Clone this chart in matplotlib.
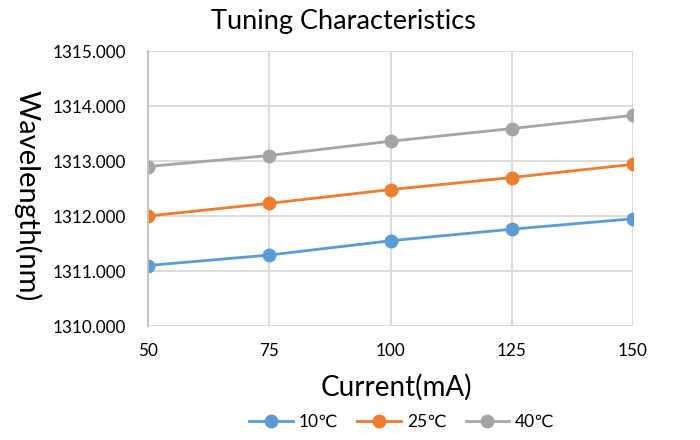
import matplotlib
matplotlib.use("Agg")
import matplotlib.pyplot as plt

current = [50, 75, 100, 125, 150]
w10 = [1311.10, 1311.29, 1311.55, 1311.76, 1311.95]
w25 = [1312.00, 1312.23, 1312.48, 1312.70, 1312.94]
w40 = [1312.90, 1313.10, 1313.36, 1313.59, 1313.83]
series_labels = ["10℃", "25℃", "40℃"]
colors = ["#5B9BD5", "#ED7D31", "#A5A5A5"]
yticks = [1310, 1311, 1312, 1313, 1314, 1315]

plt.rcParams['font.family'] = ['Lato', 'DejaVu Sans']

fig = plt.figure(figsize=(7, 4.4), dpi=100)
ax = fig.add_axes([148/700, 1-326/440, (633-148)/700, (326-51)/440])

for vals, lab, c in zip([w10, w25, w40], series_labels, colors):
    ax.plot(current, vals, color=c, lw=2.0, marker='o', markersize=9, label=lab)

ax.set_xlim(50, 150)
ax.set_ylim(1310, 1315)
ax.set_xticks(current)
ax.set_yticks(yticks)
ax.set_yticklabels([f"{v:.3f}" for v in yticks])
ax.grid(True, color="#D9D9D9", lw=1.3)
ax.set_axisbelow(True)
for s in ['top', 'right', 'bottom']:
    ax.spines[s].set_visible(False)
ax.spines['left'].set_color("#BFBFBF")
ax.spines['left'].set_linewidth(1.3)
ax.tick_params(length=0, labelsize=12.3, colors="black")
ax.tick_params(axis='y', pad=16)
ax.tick_params(axis='x', pad=12)

fig.text(343/700, 1-22/440, "Tuning Characteristics", ha='center', va='center', fontsize=19.5)
fig.text(27/700, 1-196/440, "Wavelength(nm)", ha='center', va='center', rotation=-90, fontsize=21)
fig.text(396/700, 1-387/440, "Current(mA)", ha='center', va='center', fontsize=20)

leg = fig.legend(loc='center', bbox_to_anchor=(402/700, 1-422/440), ncol=3, frameon=False,
                 fontsize=12.5, handlelength=2.5, columnspacing=1.1, handletextpad=0.35)

fig.savefig("out.png", dpi=100)
